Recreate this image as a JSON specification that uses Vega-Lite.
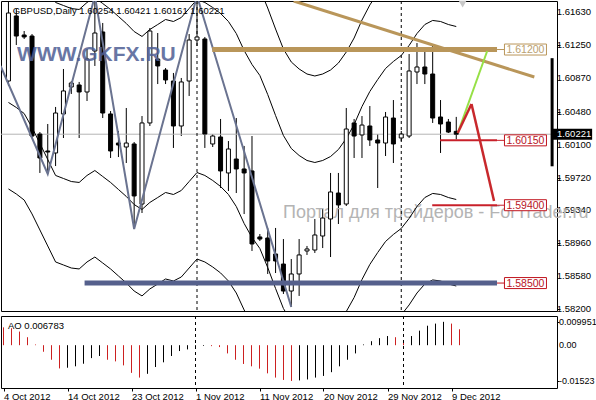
{
"$schema":"https://vega.github.io/schema/vega-lite/v6.json",
"padding":0,
"background":"white",
"spacing":0,
"config":{"view":{"stroke":"#000000","strokeWidth":1},"axis":{"labelFont":"Liberation Sans","labelFontSize":9.5,"labelColor":"#000000","tickColor":"#000000","domain":false,"grid":false,"labelOverlap":false},"text":{"font":"Liberation Sans"}},
"resolve":{"scale":{"x":"independent","y":"independent"},"axis":{"x":"independent","y":"independent"}},
"datasets":{
"one":[{}],
"yticks":[{"v":1.6163,"t":"1.61630"},{"v":1.6125,"t":"1.61250"},{"v":1.6087,"t":"1.60870"},{"v":1.6048,"t":"1.60480"},{"v":1.601,"t":"1.60100"},{"v":1.5972,"t":"1.59720"},{"v":1.5934,"t":"1.59340"},{"v":1.5896,"t":"1.58960"},{"v":1.5858,"t":"1.58580"},{"v":1.582,"t":"1.58200"}],
"aoticks":[{"v":0.009951,"t":"0.009951"},{"v":0,"t":"0.00"},{"v":-0.01523,"t":"-0.01523"}],
"candles":[
{"i":0,"o":1.60836,"h":1.61761,"l":1.60778,"c":1.61622,"e1":1.63588,"e2":1.62588,"e3":1.60588,"e4":1.59588},
{"i":1,"o":1.61588,"h":1.61669,"l":1.61252,"c":1.61356,"e1":1.6353,"e2":1.6253,"e3":1.6053,"e4":1.5953},
{"i":2,"o":1.61368,"h":1.61414,"l":1.61322,"c":1.61345,"e1":1.6346,"e2":1.6246,"e3":1.6046,"e4":1.5946},
{"i":3,"o":1.61356,"h":1.61379,"l":1.60177,"c":1.602,"e1":1.63299,"e2":1.62299,"e3":1.60299,"e4":1.59299},
{"i":4,"o":1.60223,"h":1.60246,"l":1.59773,"c":1.59946,"e1":1.63114,"e2":1.62114,"e3":1.60114,"e4":1.59114},
{"i":5,"o":1.60027,"h":1.60339,"l":1.59761,"c":1.60015,"e1":1.62929,"e2":1.61929,"e3":1.59929,"e4":1.58929},
{"i":6,"o":1.60004,"h":1.60536,"l":1.59853,"c":1.60466,"e1":1.62744,"e2":1.61744,"e3":1.59744,"e4":1.58744},
{"i":7,"o":1.60455,"h":1.60975,"l":1.60177,"c":1.60721,"e1":1.62709,"e2":1.61709,"e3":1.59709,"e4":1.58709},
{"i":8,"o":1.60767,"h":1.60836,"l":1.60686,"c":1.60813,"e1":1.62674,"e2":1.61674,"e3":1.59674,"e4":1.58674},
{"i":9,"o":1.6079,"h":1.60825,"l":1.60177,"c":1.60709,"e1":1.62663,"e2":1.61663,"e3":1.59663,"e4":1.58663},
{"i":10,"o":1.60709,"h":1.61206,"l":1.60605,"c":1.6109,"e1":1.62744,"e2":1.61744,"e3":1.59744,"e4":1.58744},
{"i":11,"o":1.61183,"h":1.61819,"l":1.6101,"c":1.61391,"e1":1.62801,"e2":1.61801,"e3":1.59801,"e4":1.58801},
{"i":12,"o":1.61403,"h":1.61507,"l":1.60408,"c":1.60466,"e1":1.62732,"e2":1.61732,"e3":1.59732,"e4":1.58732},
{"i":13,"o":1.60455,"h":1.60489,"l":1.59946,"c":1.60027,"e1":1.62663,"e2":1.61663,"e3":1.59663,"e4":1.58663},
{"i":14,"o":1.60119,"h":1.60258,"l":1.59957,"c":1.60096,"e1":1.62582,"e2":1.61582,"e3":1.59582,"e4":1.58582},
{"i":15,"o":1.60073,"h":1.60524,"l":1.59888,"c":1.60119,"e1":1.62501,"e2":1.61501,"e3":1.59501,"e4":1.58501},
{"i":16,"o":1.60108,"h":1.60131,"l":1.59125,"c":1.59507,"e1":1.62408,"e2":1.61408,"e3":1.59408,"e4":1.58408},
{"i":17,"o":1.59414,"h":1.60431,"l":1.5931,"c":1.60351,"e1":1.62351,"e2":1.61351,"e3":1.59351,"e4":1.58351},
{"i":18,"o":1.60351,"h":1.61449,"l":1.60316,"c":1.61414,"e1":1.62432,"e2":1.61432,"e3":1.59432,"e4":1.58432},
{"i":19,"o":1.6109,"h":1.61391,"l":1.60801,"c":1.6101,"e1":1.62489,"e2":1.61489,"e3":1.59489,"e4":1.58489},
{"i":20,"o":1.60963,"h":1.60986,"l":1.60801,"c":1.60848,"e1":1.62547,"e2":1.61547,"e3":1.59547,"e4":1.58547},
{"i":21,"o":1.60836,"h":1.60929,"l":1.60062,"c":1.60316,"e1":1.62524,"e2":1.61524,"e3":1.59524,"e4":1.58524},
{"i":22,"o":1.60316,"h":1.60871,"l":1.602,"c":1.60825,"e1":1.6257,"e2":1.6157,"e3":1.5957,"e4":1.5857},
{"i":23,"o":1.60836,"h":1.61379,"l":1.60663,"c":1.6131,"e1":1.62674,"e2":1.61674,"e3":1.59674,"e4":1.58674},
{"i":24,"o":1.6131,"h":1.61819,"l":1.61241,"c":1.61345,"e1":1.62778,"e2":1.61778,"e3":1.59778,"e4":1.58778},
{"i":25,"o":1.61322,"h":1.61345,"l":1.60062,"c":1.60223,"e1":1.62744,"e2":1.61744,"e3":1.59744,"e4":1.58744},
{"i":26,"o":1.60108,"h":1.60223,"l":1.60073,"c":1.602,"e1":1.62686,"e2":1.61686,"e3":1.59686,"e4":1.58686},
{"i":27,"o":1.60189,"h":1.60397,"l":1.59599,"c":1.59796,"e1":1.62617,"e2":1.61617,"e3":1.59617,"e4":1.58617},
{"i":28,"o":1.59773,"h":1.60142,"l":1.59564,"c":1.6005,"e1":1.62524,"e2":1.61524,"e3":1.59524,"e4":1.58524},
{"i":29,"o":1.59934,"h":1.60408,"l":1.59541,"c":1.59819,"e1":1.62385,"e2":1.61385,"e3":1.59385,"e4":1.58385},
{"i":30,"o":1.59819,"h":1.60085,"l":1.59298,"c":1.59773,"e1":1.62189,"e2":1.61189,"e3":1.59189,"e4":1.58189},
{"i":31,"o":1.59796,"h":1.602,"l":1.58871,"c":1.58952,"e1":1.62027,"e2":1.61027,"e3":1.59027,"e4":1.58027},
{"i":32,"o":1.59033,"h":1.59067,"l":1.58986,"c":1.59009,"e1":1.619,"e2":1.609,"e3":1.589,"e4":1.579},
{"i":33,"o":1.59021,"h":1.59137,"l":1.58605,"c":1.58755,"e1":1.6168,"e2":1.6068,"e3":1.5868,"e4":1.5768},
{"i":34,"o":1.58836,"h":1.59137,"l":1.58616,"c":1.58755,"e1":1.61437,"e2":1.60437,"e3":1.58437,"e4":1.57437},
{"i":35,"o":1.5872,"h":1.59009,"l":1.58374,"c":1.58408,"e1":1.61206,"e2":1.60206,"e3":1.58206,"e4":1.57206},
{"i":36,"o":1.58408,"h":1.58778,"l":1.58223,"c":1.58605,"e1":1.61056,"e2":1.60056,"e3":1.58056,"e4":1.57056},
{"i":37,"o":1.58605,"h":1.59009,"l":1.58351,"c":1.58825,"e1":1.60975,"e2":1.59975,"e3":1.57975,"e4":1.56975},
{"i":38,"o":1.58871,"h":1.58929,"l":1.58825,"c":1.58894,"e1":1.60917,"e2":1.59917,"e3":1.57917,"e4":1.56917},
{"i":39,"o":1.58882,"h":1.59241,"l":1.58848,"c":1.59056,"e1":1.60894,"e2":1.59894,"e3":1.57894,"e4":1.56894},
{"i":40,"o":1.59044,"h":1.59356,"l":1.58905,"c":1.59252,"e1":1.60917,"e2":1.59917,"e3":1.57917,"e4":1.56917},
{"i":41,"o":1.59241,"h":1.59773,"l":1.58801,"c":1.59553,"e1":1.60963,"e2":1.59963,"e3":1.57963,"e4":1.56963},
{"i":42,"o":1.59541,"h":1.59773,"l":1.59183,"c":1.59403,"e1":1.61044,"e2":1.60044,"e3":1.58044,"e4":1.57044},
{"i":43,"o":1.59414,"h":1.60524,"l":1.59391,"c":1.60281,"e1":1.61171,"e2":1.60171,"e3":1.58171,"e4":1.57171},
{"i":44,"o":1.60351,"h":1.60397,"l":1.59946,"c":1.602,"e1":1.61333,"e2":1.60333,"e3":1.58333,"e4":1.57333},
{"i":45,"o":1.60212,"h":1.60431,"l":1.59946,"c":1.60327,"e1":1.61541,"e2":1.60541,"e3":1.58541,"e4":1.57541},
{"i":46,"o":1.60316,"h":1.60547,"l":1.60085,"c":1.60154,"e1":1.61715,"e2":1.60715,"e3":1.58715,"e4":1.57715},
{"i":47,"o":1.60154,"h":1.60223,"l":1.59599,"c":1.60119,"e1":1.61853,"e2":1.60853,"e3":1.58853,"e4":1.57853},
{"i":48,"o":1.60119,"h":1.60478,"l":1.59969,"c":1.6042,"e1":1.61981,"e2":1.60981,"e3":1.58981,"e4":1.57981},
{"i":49,"o":1.60408,"h":1.60616,"l":1.59888,"c":1.60108,"e1":1.62062,"e2":1.61062,"e3":1.59062,"e4":1.58062},
{"i":50,"o":1.60177,"h":1.60258,"l":1.60142,"c":1.60223,"e1":1.62131,"e2":1.61131,"e3":1.59131,"e4":1.58131},
{"i":51,"o":1.602,"h":1.61148,"l":1.60177,"c":1.60952,"e1":1.62247,"e2":1.61247,"e3":1.59247,"e4":1.58247},
{"i":52,"o":1.6094,"h":1.61275,"l":1.60801,"c":1.60998,"e1":1.62385,"e2":1.61385,"e3":1.59385,"e4":1.58385},
{"i":53,"o":1.60998,"h":1.61183,"l":1.60801,"c":1.60917,"e1":1.62489,"e2":1.61489,"e3":1.59489,"e4":1.58489},
{"i":54,"o":1.60917,"h":1.61241,"l":1.60351,"c":1.60408,"e1":1.62536,"e2":1.61536,"e3":1.59536,"e4":1.58536},
{"i":55,"o":1.6042,"h":1.60616,"l":1.60004,"c":1.60339,"e1":1.62524,"e2":1.61524,"e3":1.59524,"e4":1.58524},
{"i":56,"o":1.60362,"h":1.60397,"l":1.60235,"c":1.60246,"e1":1.62489,"e2":1.61489,"e3":1.59489,"e4":1.58489},
{"i":57,"o":1.60254,"h":1.60421,"l":1.60161,"c":1.60221,"e1":1.62466,"e2":1.61466,"e3":1.59466,"e4":1.58466}
],
"zigzag":[{"i":-1,"p":1.6101},{"i":5,"p":1.59761},{"i":11,"p":1.61819},{"i":16,"p":1.59125},{"i":24,"p":1.61819},{"i":36,"p":1.58223}],
"levels":[{"level":1.612,"label":"1.61200","kind":"gold"},{"level":1.6015,"label":"1.60150","kind":"red"},{"level":1.594,"label":"1.59400","kind":"red"},{"level":1.585,"label":"1.58500","kind":"red"}],
"seps":[{"i":24},{"i":50}],
"ao":[
{"i":0,"ao":0.0076,"dir":"down"},{"i":1,"ao":0.0072,"dir":"down"},{"i":2,"ao":0.0058,"dir":"down"},{"i":3,"ao":0.0034,"dir":"down"},{"i":4,"ao":0.0003,"dir":"down"},{"i":5,"ao":-0.0028,"dir":"down"},{"i":6,"ao":-0.0062,"dir":"down"},{"i":7,"ao":-0.0099,"dir":"down"},{"i":8,"ao":-0.0096,"dir":"up"},{"i":9,"ao":-0.009,"dir":"up"},{"i":10,"ao":-0.0079,"dir":"up"},{"i":11,"ao":-0.0055,"dir":"up"},{"i":12,"ao":-0.0046,"dir":"up"},{"i":13,"ao":-0.0062,"dir":"down"},{"i":14,"ao":-0.0069,"dir":"down"},{"i":15,"ao":-0.0086,"dir":"down"},{"i":16,"ao":-0.0118,"dir":"down"},{"i":17,"ao":-0.0138,"dir":"down"},{"i":18,"ao":-0.0122,"dir":"up"},{"i":19,"ao":-0.0093,"dir":"up"},{"i":20,"ao":-0.0073,"dir":"up"},{"i":21,"ao":-0.0046,"dir":"up"},{"i":22,"ao":-0.0025,"dir":"up"},{"i":23,"ao":-0.0018,"dir":"up"},{"i":24,"ao":-0.0006,"dir":"up"},{"i":25,"ao":-0.0003,"dir":"up"},{"i":26,"ao":-0.0004,"dir":"down"},{"i":27,"ao":-0.0008,"dir":"down"},{"i":28,"ao":-0.0035,"dir":"down"},{"i":29,"ao":-0.0062,"dir":"down"},{"i":30,"ao":-0.008,"dir":"down"},{"i":31,"ao":-0.009,"dir":"down"},{"i":32,"ao":-0.01,"dir":"down"},{"i":33,"ao":-0.012,"dir":"down"},{"i":34,"ao":-0.0138,"dir":"down"},{"i":35,"ao":-0.0148,"dir":"down"},{"i":36,"ao":-0.01523,"dir":"down"},{"i":37,"ao":-0.015,"dir":"up"},{"i":38,"ao":-0.0146,"dir":"up"},{"i":39,"ao":-0.0138,"dir":"up"},{"i":40,"ao":-0.0131,"dir":"up"},{"i":41,"ao":-0.0115,"dir":"up"},{"i":42,"ao":-0.009,"dir":"up"},{"i":43,"ao":-0.0062,"dir":"up"},{"i":44,"ao":-0.0035,"dir":"up"},{"i":45,"ao":0.0003,"dir":"up"},{"i":46,"ao":0.0017,"dir":"up"},{"i":47,"ao":0.003,"dir":"up"},{"i":48,"ao":0.0039,"dir":"up"},{"i":49,"ao":0.0034,"dir":"down"},{"i":50,"ao":0.001,"dir":"down"},{"i":51,"ao":0.0039,"dir":"up"},{"i":52,"ao":0.0062,"dir":"up"},{"i":53,"ao":0.0083,"dir":"up"},{"i":54,"ao":0.0092,"dir":"up"},{"i":55,"ao":0.009951,"dir":"up"},{"i":56,"ao":0.0092,"dir":"down"},{"i":57,"ao":0.006783,"dir":"down"}
]
},
"vconcat":[
{
"width":556,"height":310,
"layer":[
{"data":{"name":"candles"},"mark":{"type":"rule","color":"#000000","strokeWidth":1,"clip":true},
 "encoding":{"x":{"field":"i","type":"quantitative","scale":{"domain":[-0.3125,69.1875],"nice":false,"zero":false},"axis":null},
  "y":{"field":"l","type":"quantitative","scale":{"domain":[1.58177,1.61761],"nice":false,"zero":false},"axis":{"orient":"right","title":null,"values":[1.6163,1.6125,1.6087,1.6048,1.601,1.5972,1.5934,1.5896,1.5858,1.582],"labels":false,"tickSize":3}},
  "y2":{"field":"h"}}},
{"data":{"name":"yticks"},"mark":{"type":"text","align":"left","baseline":"middle","fontSize":9.5,"color":"#000000"},
 "encoding":{"x":{"datum":69.8,"type":"quantitative","scale":{"domain":[-0.3125,69.1875],"nice":false,"zero":false},"axis":null},"y":{"field":"v","type":"quantitative","scale":{"domain":[1.58177,1.61761],"nice":false,"zero":false}},"text":{"field":"t"}}},
{"data":{"name":"one"},"mark":{"type":"text","text":"Портал для трейдеров - ForTrader.ru","align":"left","baseline":"alphabetic","fontSize":18,"color":"#b4b4b4"},
 "encoding":{"x":{"datum":34.94,"type":"quantitative","scale":{"domain":[-0.3125,69.1875],"nice":false,"zero":false},"axis":null},"y":{"datum":1.59256,"type":"quantitative","scale":{"domain":[1.58177,1.61761],"nice":false,"zero":false}}}},
{"data":{"name":"one"},"mark":{"type":"rule","color":"#b4b4b4","strokeWidth":1},
 "encoding":{"y":{"datum":1.60221,"type":"quantitative","scale":{"domain":[1.58177,1.61761],"nice":false,"zero":false}}}},
{"data":{"name":"seps"},"mark":{"type":"rule","color":"#000000","strokeWidth":1,"strokeDash":[3,3]},
 "encoding":{"x":{"field":"i","type":"quantitative","scale":{"domain":[-0.3125,69.1875],"nice":false,"zero":false},"axis":null}}},
{"data":{"name":"candles"},"mark":{"type":"line","color":"#000000","strokeWidth":1,"clip":true},
 "encoding":{"x":{"field":"i","type":"quantitative","scale":{"domain":[-0.3125,69.1875],"nice":false,"zero":false},"axis":null},"y":{"field":"e1","type":"quantitative","scale":{"domain":[1.58177,1.61761],"nice":false,"zero":false}}}},
{"data":{"name":"candles"},"mark":{"type":"line","color":"#000000","strokeWidth":1,"clip":true},
 "encoding":{"x":{"field":"i","type":"quantitative","scale":{"domain":[-0.3125,69.1875],"nice":false,"zero":false},"axis":null},"y":{"field":"e2","type":"quantitative","scale":{"domain":[1.58177,1.61761],"nice":false,"zero":false}}}},
{"data":{"name":"candles"},"mark":{"type":"line","color":"#000000","strokeWidth":1,"clip":true},
 "encoding":{"x":{"field":"i","type":"quantitative","scale":{"domain":[-0.3125,69.1875],"nice":false,"zero":false},"axis":null},"y":{"field":"e3","type":"quantitative","scale":{"domain":[1.58177,1.61761],"nice":false,"zero":false}}}},
{"data":{"name":"candles"},"mark":{"type":"line","color":"#000000","strokeWidth":1,"clip":true},
 "encoding":{"x":{"field":"i","type":"quantitative","scale":{"domain":[-0.3125,69.1875],"nice":false,"zero":false},"axis":null},"y":{"field":"e4","type":"quantitative","scale":{"domain":[1.58177,1.61761],"nice":false,"zero":false}}}},
{"data":{"name":"candles"},"mark":{"type":"bar","size":4,"stroke":"#000000","strokeWidth":1,"clip":true},
 "encoding":{"x":{"field":"i","type":"quantitative","scale":{"domain":[-0.3125,69.1875],"nice":false,"zero":false},"axis":null},
  "y":{"field":"o","type":"quantitative","scale":{"domain":[1.58177,1.61761],"nice":false,"zero":false}},
  "y2":{"field":"c"},
  "fill":{"condition":{"test":"datum.c >= datum.o","value":"#ffffff"},"value":"#000000"}}},
{"data":{"name":"zigzag"},"mark":{"type":"line","color":"#6a7390","strokeWidth":2,"clip":true},
 "encoding":{"x":{"field":"i","type":"quantitative","scale":{"domain":[-0.3125,69.1875],"nice":false,"zero":false},"axis":null},"y":{"field":"p","type":"quantitative","scale":{"domain":[1.58177,1.61761],"nice":false,"zero":false}}}},
{"data":{"name":"one"},"mark":{"type":"rule","color":"#b9965a","strokeWidth":5},
 "encoding":{"x":{"datum":25.94,"type":"quantitative","scale":{"domain":[-0.3125,69.1875],"nice":false,"zero":false},"axis":null},"x2":{"datum":62.19},"y":{"datum":1.612,"type":"quantitative","scale":{"domain":[1.58177,1.61761],"nice":false,"zero":false}}}},
{"data":{"name":"one"},"mark":{"type":"rule","color":"#b9965a","strokeWidth":1},
 "encoding":{"x":{"datum":62.19,"type":"quantitative","scale":{"domain":[-0.3125,69.1875],"nice":false,"zero":false},"axis":null},"x2":{"datum":63.2},"y":{"datum":1.612,"type":"quantitative","scale":{"domain":[1.58177,1.61761],"nice":false,"zero":false}}}},
{"data":{"name":"one"},"mark":{"type":"rule","color":"#b9965a","strokeWidth":3,"clip":true},
 "encoding":{"x":{"datum":36.31,"type":"quantitative","scale":{"domain":[-0.3125,69.1875],"nice":false,"zero":false},"axis":null},"x2":{"datum":66.94},"y":{"datum":1.61761,"type":"quantitative","scale":{"domain":[1.58177,1.61761],"nice":false,"zero":false}},"y2":{"datum":1.60882}}},
{"data":{"name":"one"},"mark":{"type":"rule","color":"#55608c","strokeWidth":5},
 "encoding":{"x":{"datum":9.69,"type":"quantitative","scale":{"domain":[-0.3125,69.1875],"nice":false,"zero":false},"axis":null},"x2":{"datum":62.19},"y":{"datum":1.585,"type":"quantitative","scale":{"domain":[1.58177,1.61761],"nice":false,"zero":false}}}},
{"data":{"name":"one"},"mark":{"type":"rule","color":"#c0141e","strokeWidth":1},
 "encoding":{"x":{"datum":62.19,"type":"quantitative","scale":{"domain":[-0.3125,69.1875],"nice":false,"zero":false},"axis":null},"x2":{"datum":63.2},"y":{"datum":1.585,"type":"quantitative","scale":{"domain":[1.58177,1.61761],"nice":false,"zero":false}}}},
{"data":{"name":"one"},"mark":{"type":"rule","color":"#c8202a","strokeWidth":2},
 "encoding":{"x":{"datum":54.94,"type":"quantitative","scale":{"domain":[-0.3125,69.1875],"nice":false,"zero":false},"axis":null},"x2":{"datum":62.19},"y":{"datum":1.6015,"type":"quantitative","scale":{"domain":[1.58177,1.61761],"nice":false,"zero":false}}}},
{"data":{"name":"one"},"mark":{"type":"rule","color":"#c8202a","strokeWidth":1},
 "encoding":{"x":{"datum":62.19,"type":"quantitative","scale":{"domain":[-0.3125,69.1875],"nice":false,"zero":false},"axis":null},"x2":{"datum":63.2},"y":{"datum":1.6015,"type":"quantitative","scale":{"domain":[1.58177,1.61761],"nice":false,"zero":false}}}},
{"data":{"name":"one"},"mark":{"type":"rule","color":"#c8202a","strokeWidth":2},
 "encoding":{"x":{"datum":53.94,"type":"quantitative","scale":{"domain":[-0.3125,69.1875],"nice":false,"zero":false},"axis":null},"x2":{"datum":62.19},"y":{"datum":1.594,"type":"quantitative","scale":{"domain":[1.58177,1.61761],"nice":false,"zero":false}}}},
{"data":{"name":"one"},"mark":{"type":"rule","color":"#c8202a","strokeWidth":1},
 "encoding":{"x":{"datum":62.19,"type":"quantitative","scale":{"domain":[-0.3125,69.1875],"nice":false,"zero":false},"axis":null},"x2":{"datum":63.2},"y":{"datum":1.594,"type":"quantitative","scale":{"domain":[1.58177,1.61761],"nice":false,"zero":false}}}},
{"data":{"name":"one"},"mark":{"type":"rule","color":"#96e046","strokeWidth":2},
 "encoding":{"x":{"datum":57.19,"type":"quantitative","scale":{"domain":[-0.3125,69.1875],"nice":false,"zero":false},"axis":null},"x2":{"datum":60.94},"y":{"datum":1.60235,"type":"quantitative","scale":{"domain":[1.58177,1.61761],"nice":false,"zero":false}},"y2":{"datum":1.61183}}},
{"data":{"name":"one"},"mark":{"type":"rule","color":"#c8282c","strokeWidth":2.5},
 "encoding":{"x":{"datum":57.19,"type":"quantitative","scale":{"domain":[-0.3125,69.1875],"nice":false,"zero":false},"axis":null},"x2":{"datum":58.94},"y":{"datum":1.60235,"type":"quantitative","scale":{"domain":[1.58177,1.61761],"nice":false,"zero":false}},"y2":{"datum":1.6057}}},
{"data":{"name":"one"},"mark":{"type":"rule","color":"#c8282c","strokeWidth":2.5},
 "encoding":{"x":{"datum":58.94,"type":"quantitative","scale":{"domain":[-0.3125,69.1875],"nice":false,"zero":false},"axis":null},"x2":{"datum":61.81},"y":{"datum":1.6057,"type":"quantitative","scale":{"domain":[1.58177,1.61761],"nice":false,"zero":false}},"y2":{"datum":1.59449}}},
{"data":{"name":"levels"},"mark":{"type":"point","shape":"M-1,-0.262L1,-0.262L1,0.262L-1,0.262Z","size":1764,"filled":true,"fill":"#ffffff","strokeWidth":1,"opacity":1},
 "encoding":{"x":{"datum":65.81,"type":"quantitative","scale":{"domain":[-0.3125,69.1875],"nice":false,"zero":false},"axis":null},"y":{"field":"level","type":"quantitative","scale":{"domain":[1.58177,1.61761],"nice":false,"zero":false}},
  "stroke":{"condition":{"test":"datum.kind == 'gold'","value":"#b9965a"},"value":"#c0141e"}}},
{"data":{"name":"levels"},"mark":{"type":"text","align":"center","baseline":"middle","fontSize":10.5,"dy":0.5},
 "encoding":{"x":{"datum":65.81,"type":"quantitative","scale":{"domain":[-0.3125,69.1875],"nice":false,"zero":false},"axis":null},"y":{"field":"level","type":"quantitative","scale":{"domain":[1.58177,1.61761],"nice":false,"zero":false}},"text":{"field":"label"},
  "color":{"condition":{"test":"datum.kind == 'gold'","value":"#b9a070"},"value":"#b8141e"}}},
{"data":{"name":"one"},"mark":{"type":"text","text":"WWW.GKFX.RU","align":"left","baseline":"alphabetic","fontSize":21,"fontWeight":"bold","color":"#4f5f95","opacity":0.85},
 "encoding":{"x":{"datum":1.1,"type":"quantitative","scale":{"domain":[-0.3125,69.1875],"nice":false,"zero":false},"axis":null},"y":{"datum":1.61067,"type":"quantitative","scale":{"domain":[1.58177,1.61761],"nice":false,"zero":false}}}},
{"data":{"name":"one"},"mark":{"type":"text","text":"GBPUSD,Daily  1.60254 1.60421 1.60161 1.60221","align":"left","baseline":"middle","fontSize":9.5,"color":"#000000"},
 "encoding":{"x":{"datum":0.56,"type":"quantitative","scale":{"domain":[-0.3125,69.1875],"nice":false,"zero":false},"axis":null},"y":{"datum":1.61645,"type":"quantitative","scale":{"domain":[1.58177,1.61761],"nice":false,"zero":false}}}},
{"data":{"name":"one"},"mark":{"type":"point","shape":"triangle-down","size":60,"filled":true,"color":"#c8c8c8","opacity":1},
 "encoding":{"x":{"datum":57.81,"type":"quantitative","scale":{"domain":[-0.3125,69.1875],"nice":false,"zero":false},"axis":null},"y":{"datum":1.61725,"type":"quantitative","scale":{"domain":[1.58177,1.61761],"nice":false,"zero":false}}}},
{"data":{"name":"one"},"mark":{"type":"rule","color":"#000000","strokeWidth":3},
 "encoding":{"x":{"datum":69.2,"type":"quantitative","scale":{"domain":[-0.3125,69.1875],"nice":false,"zero":false},"axis":null},"y":{"datum":1.611,"type":"quantitative","scale":{"domain":[1.58177,1.61761],"nice":false,"zero":false}},"y2":{"datum":1.5985}}},
{"data":{"name":"one"},"mark":{"type":"point","shape":"M-1,-0.275L1,-0.275L1,0.275L-1,0.275Z","size":1600,"filled":true,"color":"#000000","opacity":1},
 "encoding":{"x":{"datum":71.75,"type":"quantitative","scale":{"domain":[-0.3125,69.1875],"nice":false,"zero":false},"axis":null},"y":{"datum":1.60221,"type":"quantitative","scale":{"domain":[1.58177,1.61761],"nice":false,"zero":false}}}},
{"data":{"name":"one"},"mark":{"type":"text","text":"1.60221","align":"left","baseline":"middle","fontSize":9.5,"color":"#ffffff"},
 "encoding":{"x":{"datum":69.81,"type":"quantitative","scale":{"domain":[-0.3125,69.1875],"nice":false,"zero":false},"axis":null},"y":{"datum":1.60221,"type":"quantitative","scale":{"domain":[1.58177,1.61761],"nice":false,"zero":false}}}}
]
},
{
"width":556,"height":72,
"layer":[
{"data":{"name":"ao"},"mark":{"type":"rule","strokeWidth":1},
 "encoding":{"x":{"field":"i","type":"quantitative","scale":{"domain":[-0.3125,69.1875],"nice":false,"zero":false},
   "axis":{"orient":"bottom","title":null,"values":[0,8,16,24,32,40,48,56],"labelExpr":"datum.value < 4 ? '4 Oct 2012' : datum.value < 12 ? '14 Oct 2012' : datum.value < 20 ? '23 Oct 2012' : datum.value < 28 ? '1 Nov 2012' : datum.value < 36 ? '11 Nov 2012' : datum.value < 44 ? '20 Nov 2012' : datum.value < 52 ? '29 Nov 2012' : '9 Dec 2012'","labelAlign":"left","labelFlush":false,"labelOverlap":false,"tickSize":3,"labelPadding":0}},
  "y":{"field":"ao","type":"quantitative","scale":{"domain":[-0.01824,0.01244],"nice":false,"zero":false},
   "axis":{"orient":"right","title":null,"values":[0.009951,0,-0.01523],"labels":false,"tickSize":2}},
  "y2":{"datum":0},
  "color":{"condition":{"test":"datum.dir == 'down'","value":"#cc2020"},"value":"#000000"}}},
{"data":{"name":"aoticks"},"mark":{"type":"text","align":"left","baseline":"middle","fontSize":9,"color":"#000000"},
 "encoding":{"x":{"datum":69.45,"type":"quantitative","scale":{"domain":[-0.3125,69.1875],"nice":false,"zero":false}},"y":{"field":"v","type":"quantitative","scale":{"domain":[-0.01824,0.01244],"nice":false,"zero":false}},"text":{"field":"t"}}},
{"data":{"name":"seps"},"mark":{"type":"rule","color":"#000000","strokeWidth":1,"strokeDash":[3,3]},
 "encoding":{"x":{"field":"i","type":"quantitative","scale":{"domain":[-0.3125,69.1875],"nice":false,"zero":false}}}},
{"data":{"name":"one"},"mark":{"type":"text","text":"AO 0.006783","align":"left","baseline":"middle","fontSize":9.5,"color":"#000000"},
 "encoding":{"x":{"datum":0.56,"type":"quantitative","scale":{"domain":[-0.3125,69.1875],"nice":false,"zero":false}},"y":{"datum":0.00829,"type":"quantitative","scale":{"domain":[-0.01824,0.01244],"nice":false,"zero":false}}}}
]
}
]
}
